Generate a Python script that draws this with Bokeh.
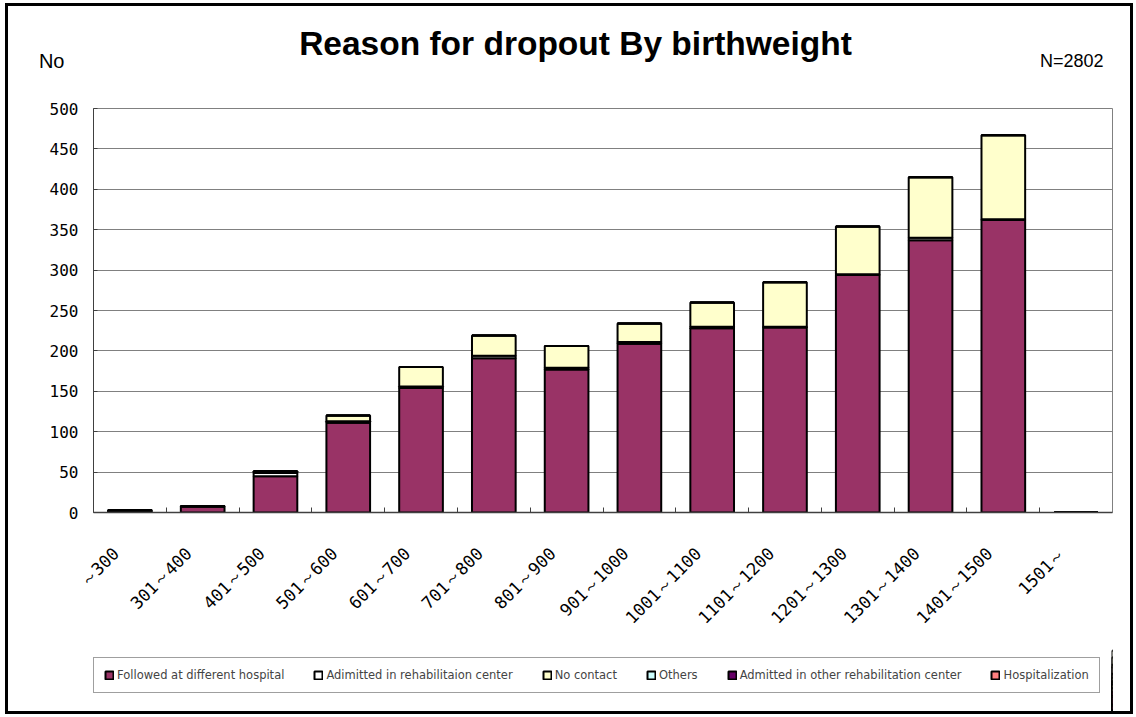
import math
from bokeh.plotting import figure
from bokeh.layouts import column
from bokeh.models import (ColumnDataSource, Range1d, FixedTicker, Legend, LegendItem, Label)
from bokeh.embed import file_html
from bokeh.resources import INLINE

categories = ["～300", "301～400", "401～500", "501～600", "601～700", "701～800",
              "801～900", "901～1000", "1001～1100", "1101～1200", "1201～1300",
              "1301～1400", "1401～1500", "1501～"]
followed = [2, 7, 45, 111, 154, 191, 177, 209, 228, 229, 294, 337, 362, 0]
admitted_rehab = [1, 1, 4, 2, 2, 3, 2, 2, 2, 1, 1, 3, 1, 0]
no_contact = [0, 0, 2, 7, 24, 25, 27, 23, 30, 55, 59, 75, 104, 0]
others = [0, 0, 0, 0, 0, 0, 0, 0, 0, 0, 0, 0, 0, 0]
admitted_other = [0, 0, 0, 0, 0, 0, 0, 0, 0, 0, 0, 0, 0, 0]
hospitalization = [0, 0, 0, 0, 0, 0, 0, 0, 0, 0, 0, 0, 0, 0]

series_names = ["Followed at different hospital", "Adimitted in rehabilitaion center",
                "No contact", "Others", "Admitted in other rehabilitation center",
                "Hospitalization"]
series_colors = ["#993366", "#FFFFFF", "#FFFFCC", "#CCFFFF", "#660066", "#FF8080"]
y_ticks = [0, 50, 100, 150, 200, 250, 300, 350, 400, 450, 500]

title_text = "Reason for dropout By birthweight"
y_unit_text = "No"
n_text = "N=2802"

keys = ["s0", "s1", "s2", "s3", "s4", "s5"]
xpos = [i + 0.5 for i in range(len(categories))]
label_pos = [x - 0.19 for x in xpos]
boundaries = [i for i in range(1, len(categories))]
src = ColumnDataSource(dict(x=xpos, s0=followed, s1=admitted_rehab, s2=no_contact,
                            s3=others, s4=admitted_other, s5=hospitalization))

W = 1122

# ---------- header strip (title, unit, N) ----------
head = figure(width=W, height=75, output_backend="svg", toolbar_location=None,
              x_axis_type=None, min_border=0,
              x_range=Range1d(0, 1), y_range=Range1d(0, 75),
              background_fill_color="white", border_fill_color="white")
head.outline_line_color = None
head.grid.visible = False
unit_pos = 21
hy = head.yaxis[0]
hy.ticker = FixedTicker(ticks=[unit_pos])
hy.major_label_overrides = {unit_pos: y_unit_text}
hy.major_label_text_font = "Liberation Sans"
hy.major_label_text_font_size = "20px"
hy.major_label_text_color = "black"
hy.axis_line_color = None
hy.major_tick_line_color = None
hy.minor_tick_line_color = None
hy.major_tick_in = 0
hy.major_tick_out = 0
hy.major_label_standoff = 29
head.add_layout(Label(x=482, y=38, x_units="screen", y_units="screen", text=title_text,
                      text_font="Liberation Sans", text_font_style="bold",
                      text_font_size="33.5px", text_align="center",
                      text_baseline="middle", text_color="black"))
head.add_layout(Label(x=1010, y=21, x_units="screen", y_units="screen", text=n_text,
                      text_font="Liberation Sans", text_font_size="18px",
                      text_align="right", text_baseline="middle", text_color="black"))

# ---------- main chart ----------
fig = figure(width=W, height=565, x_range=Range1d(0, len(categories)),
             y_range=Range1d(0, 500), output_backend="svg", toolbar_location=None,
             min_border_left=85, min_border_top=27, min_border_right=18,
             min_border_bottom=134, background_fill_color="white",
             border_fill_color="white")

rs = fig.vbar_stack(keys, x="x", width=0.6, fill_color=series_colors,
                    line_color="black", line_width=2, source=src)

fig.outline_line_color = "#808080"
fig.xgrid.grid_line_color = None
fig.ygrid.grid_line_color = "#808080"
fig.ygrid.ticker = FixedTicker(ticks=y_ticks)

ya = fig.yaxis[0]
ya.ticker = FixedTicker(ticks=y_ticks)
ya.major_label_text_font = "DejaVu Sans Mono"
ya.major_label_text_font_size = "16px"
ya.major_label_text_color = "black"
ya.major_tick_in = 4
ya.major_tick_out = 0
ya.minor_tick_line_color = None
ya.axis_line_color = "#404040"
ya.major_tick_line_color = "#404040"
ya.major_label_standoff = 15

xa = fig.xaxis[0]
xa.ticker = FixedTicker(ticks=label_pos, minor_ticks=boundaries)
xa.major_label_overrides = {x: c for x, c in zip(label_pos, categories)}
xa.major_label_orientation = math.pi / 4
xa.major_label_text_font = "DejaVu Sans Mono"
xa.major_label_text_font_size = "17px"
xa.major_label_text_color = "black"
xa.major_tick_line_color = None
xa.major_tick_in = 0
xa.major_tick_out = 0
xa.minor_tick_in = 5
xa.minor_tick_out = 0
xa.minor_tick_line_color = "#404040"
xa.axis_line_color = "#404040"
xa.axis_line_width = 1.5
xa.major_label_standoff = 38

# ---------- legend strip ----------
leg = figure(width=W, height=65, output_backend="svg", toolbar_location=None,
             x_axis_type=None, y_axis_type=None, min_border=0,
             x_range=Range1d(-20, -19), y_range=Range1d(0, 500),
             background_fill_color="white", border_fill_color="white")
leg.outline_line_color = None
leg.grid.visible = False
lrs = leg.vbar_stack(keys, x="x", width=0.6, fill_color=series_colors,
                     line_color="black", line_width=2, source=src)

legend = Legend(items=[LegendItem(label=n, renderers=[r]) for n, r in zip(series_names, lrs)],
                orientation="horizontal", location=(0, 18))
legend.label_text_font = "DejaVu Sans"
legend.label_text_font_size = "11.5px"
legend.glyph_width = 10
legend.glyph_height = 10
legend.label_height = 10
legend.label_standoff = 3
legend.spacing = 29
legend.padding = 10
legend.margin = 0
legend.border_line_color = "#404040"
legend.border_line_width = 1
legend.background_fill_color = "white"
leg.add_layout(legend, "center")

p = column(head, fig, leg, spacing=0)
p.styles = {"border": "3px solid black", "margin-left": "5px", "margin-top": "3px",
            "background-color": "white"}

open("out.html", "w").write(file_html(p, INLINE))
